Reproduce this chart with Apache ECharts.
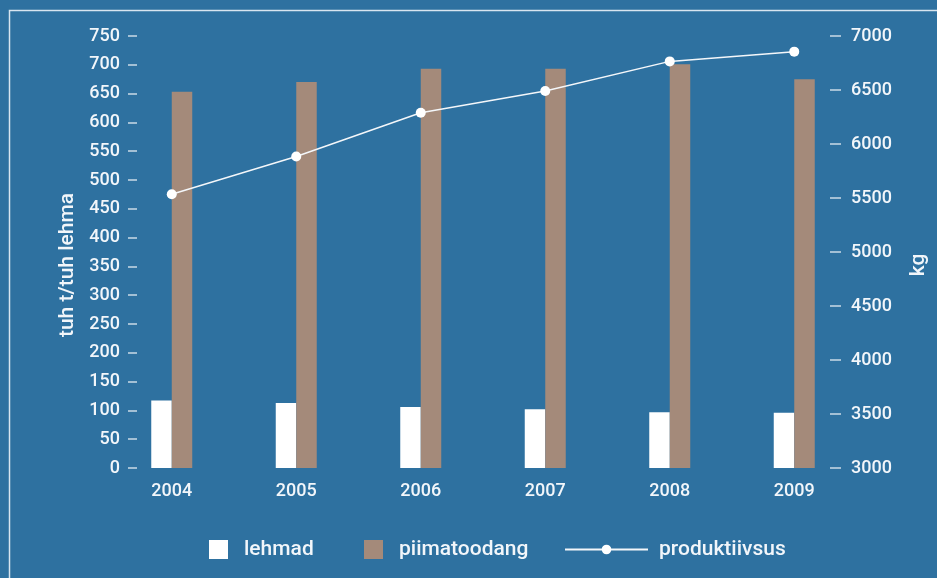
<!DOCTYPE html>
<html>
<head>
<meta charset="utf-8">
<script src="https://cdn.jsdelivr.net/npm/echarts@6/dist/echarts.min.js"></script>
<style>
html,body{margin:0;padding:0;background:#2e71a0;}
#chart{width:937px;height:578px;}
</style>
</head>
<body>
<div id="chart"></div>
<script>
var years = ['2004', '2005', '2006', '2007', '2008', '2009'];
var lehmad = [117, 113, 106, 102, 97, 96];
var piimatoodang = [653, 670, 693, 693, 701, 675];
var produktiivsus = [5535, 5885, 6290, 6490, 6765, 6855];

var FONT = 'Roboto';
var FW = 500;
var txt = '#f2f6fa';
var tickCol = 'rgba(255,255,255,0.75)';

var chart = echarts.init(document.getElementById('chart'));
chart.setOption({
  backgroundColor: '#2e71a0',
  animation: false,
  textStyle: { fontFamily: FONT },
  graphic: [{
    type: 'rect',
    shape: { x: 9.5, y: 10.5, width: 1200, height: 1200 },
    style: { fill: 'none', stroke: 'rgba(235,242,248,0.9)', lineWidth: 1.5 },
    silent: true
  }],
  grid: { left: 109.5, right: 77.5, top: 36, bottom: 110 },
  legend: [{
    left: 209, top: 539, itemWidth: 19, itemHeight: 19, padding: 0,
    icon: 'rect',
    data: ['lehmad'],
    textStyle: { color: txt, fontSize: 21, fontWeight: FW, fontFamily: FONT, padding: [0, 0, 0, 11] }
  }, {
    left: 364, top: 539, itemWidth: 19, itemHeight: 19, padding: 0,
    icon: 'rect',
    data: ['piimatoodang'],
    textStyle: { color: txt, fontSize: 21, fontWeight: FW, fontFamily: FONT, padding: [0, 0, 0, 11] }
  }, {
    left: 564, top: 539, itemWidth: 83, itemHeight: 12, padding: 0,
    data: ['produktiivsus'],
    textStyle: { color: txt, fontSize: 21, fontWeight: FW, fontFamily: FONT, padding: [0, 0, 0, 6] }
  }],
  xAxis: {
    type: 'category',
    data: years,
    axisLine: { show: false },
    axisTick: { show: false },
    axisLabel: { color: txt, fontSize: 18, fontWeight: FW, fontFamily: FONT, margin: 14 }
  },
  yAxis: [{
    type: 'value',
    min: 0, max: 750, interval: 50,
    offset: -27.5,
    name: 'tuh t/tuh lehma',
    nameLocation: 'middle',
    nameRotate: 90,
    nameGap: 58,
    nameTextStyle: { color: txt, fontSize: 21, fontWeight: FW, fontFamily: FONT, padding: [0, 26, 0, 0] },
    axisLine: { show: false },
    axisTick: { show: true, length: 9, lineStyle: { color: tickCol, width: 1.5 } },
    axisLabel: { color: txt, fontSize: 18, fontWeight: FW, fontFamily: FONT, margin: 17 },
    splitLine: { show: false }
  }, {
    type: 'value',
    min: 3000, max: 7000, interval: 500,
    position: 'right',
    offset: -26.5,
    name: 'kg',
    nameLocation: 'middle',
    nameRotate: 90,
    nameGap: 78,
    nameTextStyle: { color: txt, fontSize: 21, fontWeight: FW, fontFamily: FONT, padding: [0, 26, 0, 0] },
    axisLine: { show: false },
    axisTick: { show: true, length: 11, lineStyle: { color: tickCol, width: 1.5 } },
    axisLabel: { color: txt, fontSize: 18, fontWeight: FW, fontFamily: FONT, margin: 21,
      formatter: function (v) { return String(v); } },
    splitLine: { show: false }
  }],
  series: [{
    name: 'lehmad',
    type: 'bar',
    data: lehmad,
    barWidth: 20.5,
    barGap: '0%',
    itemStyle: { color: '#ffffff' }
  }, {
    name: 'piimatoodang',
    type: 'bar',
    data: piimatoodang,
    barWidth: 20.5,
    barGap: '0%',
    itemStyle: { color: '#a48a7a' }
  }, {
    name: 'produktiivsus',
    type: 'line',
    yAxisIndex: 1,
    data: produktiivsus,
    symbol: 'circle',
    symbolSize: 10,
    lineStyle: { color: '#f4f7fa', width: 1.5 },
    itemStyle: { color: '#ffffff' },
    z: 5
  }]
});
</script>
</body>
</html>
